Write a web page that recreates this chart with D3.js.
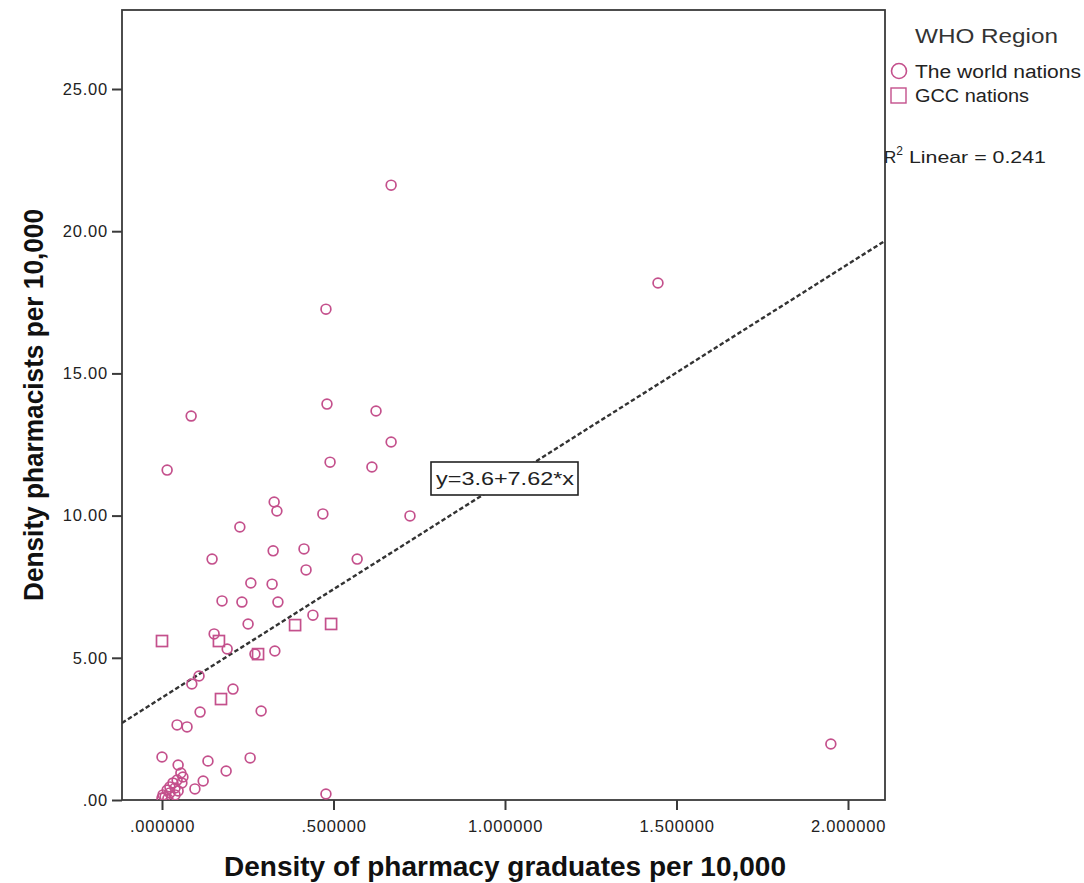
<!DOCTYPE html>
<html>
<head>
<meta charset="utf-8">
<script src="https://cdn.jsdelivr.net/npm/d3@7"></script>
<style>
  html, body { margin: 0; padding: 0; background: #fff; }
  svg { display: block; }
</style>
</head>
<body>
<div id="chart"></div>
<script>
// Density of pharmacy graduates (x) vs density of pharmacists (y), per 10,000
const worldX = [0.668, 1.446, 0.478, 0.085, 0.481, 0.624, 0.668, 0.015, 0.490, 0.612,
  0.327, 0.335, 0.469, 0.723, 0.227, 0.324, 0.414, 0.146, 0.569, 0.420,
  0.259, 0.321, 0.175, 0.233, 0.338, 0.251, 0.440, 0.152, 0.190, 0.271,
  0.329, 0.108, 0.087, 0.207, 0.111, 0.289, 0.044, 0.073, 0.000, 0.047,
  0.134, 0.257, 0.055, 0.187, 0.120, 0.096, 0.478, 1.950, 0.061, 0.044,
  0.032, 0.023, 0.015, 0.003, 0.000, 0.038, 0.023, 0.038, 0.058, 0.047,
  0.009, 0.017];
const worldY = [21.62, 18.18, 17.26, 13.50, 13.92, 13.68, 12.59, 11.60, 11.88, 11.71,
  10.48, 10.16, 10.06, 9.99, 9.60, 8.76, 8.83, 8.47, 8.47, 8.09,
  7.63, 7.59, 7.00, 6.96, 6.96, 6.19, 6.50, 5.84, 5.31, 5.13,
  5.24, 4.36, 4.08, 3.90, 3.09, 3.13, 2.64, 2.57, 1.51, 1.23,
  1.37, 1.48, 0.95, 1.02, 0.67, 0.39, 0.21, 1.97, 0.81, 0.70,
  0.60, 0.46, 0.35, 0.18, 0.07, 0.42, 0.25, 0.18, 0.60, 0.32,
  0.11, 0.04];
const gccX = [0.000, 0.166, 0.388, 0.493, 0.280, 0.172];
const gccY = [5.59, 5.59, 6.15, 6.19, 5.13, 3.55];

const xTicks = [0, 0.5, 1.0, 1.5, 2.0];
const yTicks = [0, 5, 10, 15, 20, 25];

const fitIntercept = 3.6;
const fitSlope = 7.62;
const rSquared = 0.241;

const legendTitle = "WHO Region";
const groupNames = ["The world nations", "GCC nations"];
const xTitle = "Density of pharmacy graduates per 10,000";
const yTitle = "Density pharmacists per 10,000";

const W = 1084, H = 883;
const plot = { left: 122, top: 10, right: 885, bottom: 800 };
const markColor = "#c4508c";
const axisColor = "#3a3a3a";
const sans = "Arial, 'Liberation Sans', sans-serif";
const narrow = "'Liberation Sans Narrow', 'Arial Narrow', 'Liberation Sans', sans-serif";

const svg = d3.select("#chart").append("svg")
  .attr("width", W).attr("height", H)
  .style("font-family", sans);

const x = d3.scaleLinear().domain([-0.11662, 2.10787]).range([plot.left, plot.right]);
const y = d3.scaleLinear().domain([0, 27.778]).range([plot.bottom, plot.top]);

svg.append("defs").append("clipPath").attr("id", "plotClip")
  .append("rect")
  .attr("x", plot.left).attr("y", plot.top)
  .attr("width", plot.right - plot.left).attr("height", plot.bottom - plot.top);

// axes
const xAxis = d3.axisBottom(x).tickValues(xTicks).tickSize(10).tickPadding(8)
  .tickFormat(d => {
    const s = d.toFixed(6);
    return s.startsWith("0") ? s.slice(1) : s;
  });
const yAxis = d3.axisLeft(y).tickValues(yTicks).tickSize(10).tickPadding(4)
  .tickFormat(d => d === 0 ? ".00" : d.toFixed(2));

const gx = svg.append("g").attr("transform", `translate(0,${plot.bottom})`).call(xAxis);
const gy = svg.append("g").attr("transform", `translate(${plot.left},0)`).call(yAxis);
[gx, gy].forEach(g => {
  g.select(".domain").remove();
  g.selectAll(".tick line").attr("stroke", axisColor).attr("stroke-width", 2);
  g.selectAll(".tick text").attr("fill", "#222")
    .style("font-size", "16.5px").style("letter-spacing", "0.8px")
    .style("font-family", sans);
});
gx.selectAll(".tick text").attr("dy", "0.85em");

// frame
svg.append("rect")
  .attr("x", plot.left).attr("y", plot.top)
  .attr("width", plot.right - plot.left).attr("height", plot.bottom - plot.top)
  .attr("fill", "none").attr("stroke", axisColor).attr("stroke-width", 1.8);

// fit line
const marks = svg.append("g").attr("clip-path", "url(#plotClip)");
const [x0, x1] = x.domain();
marks.append("line")
  .attr("x1", x(x0)).attr("y1", y(fitIntercept + fitSlope * x0))
  .attr("x2", x(x1)).attr("y2", y(fitIntercept + fitSlope * x1))
  .attr("stroke", "#333").attr("stroke-width", 2.4)
  .attr("stroke-dasharray", "4.5,2.5");

// world nations: circles
const world = worldX.map((v, i) => ({ x: v, y: worldY[i] }));
marks.selectAll("circle.world").data(world).join("circle")
  .attr("class", "world")
  .attr("cx", d => x(d.x)).attr("cy", d => y(d.y)).attr("r", 4.9)
  .attr("fill", "none").attr("stroke", markColor).attr("stroke-width", 1.7);

// GCC nations: squares
const gcc = gccX.map((v, i) => ({ x: v, y: gccY[i] }));
const sq = 11;
marks.selectAll("rect.gcc").data(gcc).join("rect")
  .attr("class", "gcc")
  .attr("x", d => x(d.x) - sq / 2).attr("y", d => y(d.y) - sq / 2)
  .attr("width", sq).attr("height", sq)
  .attr("fill", "none").attr("stroke", markColor).attr("stroke-width", 1.7);

// equation label on the line
const eqG = svg.append("g");
eqG.append("rect")
  .attr("x", 431).attr("y", 462)
  .attr("width", 147).attr("height", 33)
  .attr("fill", "#fff").attr("stroke", "#222").attr("stroke-width", 1.6);
eqG.append("text")
  .attr("x", 436).attr("y", 485)
  .attr("fill", "#222").style("font-size", "18px")
  .attr("textLength", 138).attr("lengthAdjust", "spacingAndGlyphs")
  .text(`y=${fitIntercept}+${fitSlope}*x`);

// legend
const lg = svg.append("g");
lg.append("text").attr("x", 915).attr("y", 43)
  .attr("fill", "#333").style("font-size", "20px")
  .attr("textLength", 143).attr("lengthAdjust", "spacingAndGlyphs")
  .text(legendTitle);
lg.append("circle").attr("cx", 899).attr("cy", 71).attr("r", 7.5)
  .attr("fill", "none").attr("stroke", markColor).attr("stroke-width", 1.6);
lg.append("text").attr("x", 915).attr("y", 78)
  .attr("fill", "#222").style("font-size", "18px")
  .attr("textLength", 166).attr("lengthAdjust", "spacingAndGlyphs")
  .text(groupNames[0]);
lg.append("rect").attr("x", 891).attr("y", 88).attr("width", 15).attr("height", 15)
  .attr("fill", "none").attr("stroke", markColor).attr("stroke-width", 1.4);
lg.append("text").attr("x", 915).attr("y", 102)
  .attr("fill", "#222").style("font-size", "18px")
  .attr("textLength", 114).attr("lengthAdjust", "spacingAndGlyphs")
  .text(groupNames[1]);

const r2 = lg.append("text").attr("x", 884).attr("y", 163)
  .attr("fill", "#222").style("font-size", "17px");
r2.append("tspan").text("R");
r2.append("tspan").attr("dy", -8).style("font-size", "12px").text("2");
r2.append("tspan").attr("dy", 8).attr("textLength", 143).attr("lengthAdjust", "spacingAndGlyphs")
  .text(` Linear = ${rSquared}`);

// axis titles
svg.append("text")
  .attr("x", 505).attr("y", 876)
  .attr("text-anchor", "middle")
  .style("font-family", narrow)
  .style("font-weight", "bold").style("font-size", "27px")
  .attr("textLength", 562).attr("lengthAdjust", "spacingAndGlyphs")
  .attr("fill", "#111").text(xTitle);

svg.append("text")
  .attr("transform", `translate(43,405) rotate(-90)`)
  .attr("text-anchor", "middle")
  .style("font-family", narrow)
  .style("font-weight", "bold").style("font-size", "27px")
  .attr("textLength", 392).attr("lengthAdjust", "spacingAndGlyphs")
  .attr("fill", "#111").text(yTitle);
</script>
</body>
</html>
